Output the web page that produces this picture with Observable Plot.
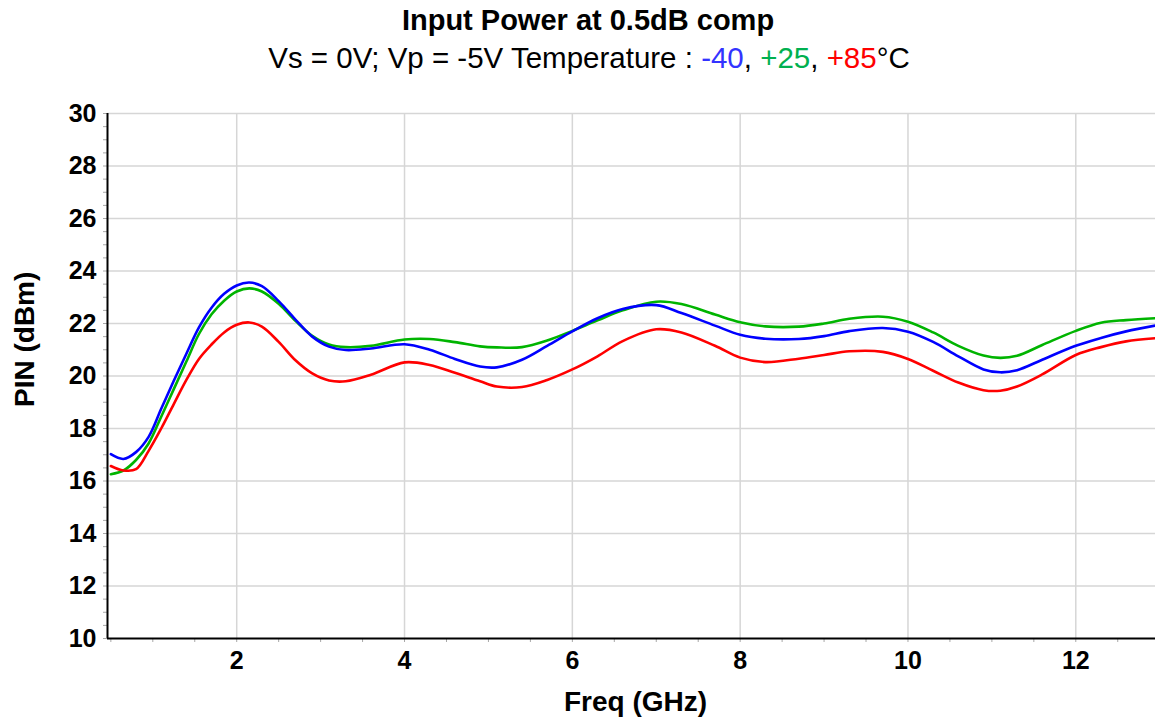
<!DOCTYPE html>
<html>
<head>
<meta charset="utf-8">
<script src="https://cdn.jsdelivr.net/npm/d3@7"></script>
<script src="https://cdn.jsdelivr.net/npm/@observablehq/plot@0.6"></script>
<style>
  body { margin: 0; background: #fff; font-family: "Liberation Sans", Arial, sans-serif; }
  #head { position: relative; width: 1155px; height: 84px; }
  #title { position: absolute; left: 0; width: 1176px; top: 6px; text-align: center; font-weight: bold; font-size: 29px; line-height: 1; color: #000; }
  #subtitle { position: absolute; left: 0; width: 1178px; top: 43px; text-align: center; font-size: 29.5px; line-height: 1; color: #000; white-space: nowrap; }
  #chart svg { display: block; }
</style>
</head>
<body>
<div id="head">
  <div id="title">Input Power at 0.5dB comp</div>
  <div id="subtitle">Vs = 0V; Vp = -5V Temperature : <span style="color:#3333ff">-40</span>, <span style="color:#00b050">+25</span>, <span style="color:#ff0000">+85</span>°C</div>
</div>
<div id="chart"></div>
<script>
// Frequency points (GHz)
const freq = [0.5, 0.65, 0.8, 0.95, 1.1, 1.25, 1.4, 1.55, 1.7, 1.85, 2.0, 2.15, 2.3, 2.5, 2.7, 2.9, 3.1, 3.3, 3.6, 4.0, 4.3, 4.6, 4.9, 5.1, 5.4, 5.7, 6.0, 6.3, 6.6, 7.0, 7.3, 7.7, 8.0, 8.3, 8.7, 9.0, 9.3, 9.7, 10.0, 10.3, 10.6, 10.9, 11.1, 11.3, 11.6, 12.0, 12.3, 12.6, 12.95];

// PIN (dBm) at -40 °C
const pinM40 = [17.02, 16.84, 17.1, 17.68, 18.75, 19.82, 20.85, 21.85, 22.6, 23.13, 23.45, 23.56, 23.42, 22.85, 22.15, 21.5, 21.12, 20.99, 21.05, 21.21, 21.0, 20.65, 20.36, 20.33, 20.62, 21.15, 21.7, 22.2, 22.55, 22.7, 22.4, 21.92, 21.57, 21.42, 21.41, 21.52, 21.71, 21.83, 21.69, 21.3, 20.75, 20.25, 20.14, 20.22, 20.62, 21.15, 21.45, 21.7, 21.92];

// PIN (dBm) at +25 °C
const pinP25 = [16.26, 16.4, 16.8, 17.43, 18.45, 19.5, 20.55, 21.6, 22.35, 22.87, 23.22, 23.34, 23.22, 22.75, 22.1, 21.53, 21.2, 21.1, 21.15, 21.39, 21.41, 21.29, 21.13, 21.09, 21.1, 21.35, 21.72, 22.12, 22.5, 22.83, 22.74, 22.34, 22.05, 21.89, 21.88, 22.0, 22.18, 22.26, 22.07, 21.66, 21.15, 20.78, 20.69, 20.77, 21.18, 21.72, 22.03, 22.13, 22.2];

// PIN (dBm) at +85 °C
const pinP85 = [16.57, 16.4, 16.45, 17.15, 18.0, 18.93, 19.85, 20.65, 21.2, 21.66, 21.95, 22.04, 21.88, 21.3, 20.6, 20.1, 19.83, 19.8, 20.05, 20.52, 20.42, 20.12, 19.8, 19.6, 19.58, 19.85, 20.25, 20.75, 21.33, 21.78, 21.66, 21.15, 20.7, 20.53, 20.66, 20.8, 20.94, 20.92, 20.65, 20.2, 19.75, 19.46, 19.44, 19.6, 20.06, 20.8, 21.1, 21.32, 21.44];

const temps = ["+25", "+85", "-40"];
const tempColors = ["#00b400", "#ff0000", "#0000ff"];

const xTicks = [2, 4, 6, 8, 10, 12];
const yTicks = [10, 12, 14, 16, 18, 20, 22, 24, 26, 28, 30];
const xMinor = [0.5, 1, 1.5, 2, 2.5, 3, 3.5, 4, 4.5, 5, 5.5, 6, 6.5, 7, 7.5, 8, 8.5, 9, 9.5, 10, 10.5, 11, 11.5, 12, 12.5];
const yMinor = d3.range(10, 30.01, 0.5);

const series = {"-40": pinM40, "+25": pinP25, "+85": pinP85};
const rows = temps.flatMap(t => freq.map((f, i) => ({freq: f, pin: series[t][i], temp: t})));

const font = '"Liberation Sans", Arial, sans-serif';

const chart = Plot.plot({
  width: 1155,
  height: 638,
  marginTop: 29,
  marginBottom: 84,
  marginLeft: 107,
  marginRight: 0,
  style: {fontFamily: font, background: "#fff", overflow: "visible", color: "#000"},
  x: {domain: [0.46, 12.95]},
  y: {domain: [10, 30]},
  color: {domain: temps, range: tempColors},
  marks: [
    Plot.gridX(xTicks, {stroke: "#d6d6d6", strokeOpacity: 1, strokeWidth: 1.5}),
    Plot.gridY(yTicks.filter(d => d > 10), {stroke: "#d6d6d6", strokeOpacity: 1, strokeWidth: 1.5}),
    Plot.axisX(xMinor, {tickSize: 4, stroke: "#a8a8a8", tickFormat: () => "", label: null}),
    Plot.axisY(yMinor, {tickSize: 4, stroke: "#a8a8a8", tickFormat: () => "", label: null}),
    Plot.axisX(xTicks, {tickSize: 0, tickPadding: 13, fontSize: 25, fontWeight: "bold", label: null}),
    Plot.axisY(yTicks, {tickSize: 0, tickPadding: 11, fontSize: 25, fontWeight: "bold", label: null}),
    Plot.ruleX([0.46], {stroke: "#000", strokeWidth: 2}),
    Plot.ruleY([10], {stroke: "#000", strokeWidth: 2}),
    Plot.line(rows, {x: "freq", y: "pin", z: "temp", stroke: "temp", curve: "catmull-rom", strokeWidth: 2.6}),
    Plot.text(["PIN (dBm)"], {text: d => d, frameAnchor: "left", rotate: -90, dx: -82, dy: 31, fontSize: 28, fontWeight: "bold", fill: "#000"}),
    Plot.text(["Freq (GHz)"], {text: d => d, frameAnchor: "bottom", dx: 4, dy: 72, fontSize: 28, fontWeight: "bold", fill: "#000"})
  ]
});
document.getElementById("chart").appendChild(chart);
</script>
</body>
</html>
